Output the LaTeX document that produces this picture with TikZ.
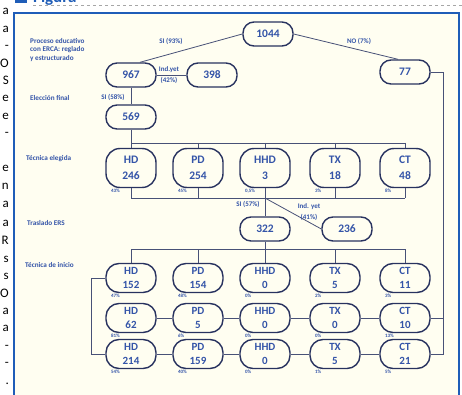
\documentclass[tikz,border=0pt]{standalone}
\usepackage{fontspec}
\setmainfont{Carlito}

\definecolor{ink}{HTML}{28325F}
\definecolor{txtblue}{HTML}{3454A8}
\definecolor{frameblue}{HTML}{1F5DB8}
\definecolor{paper}{HTML}{FFFEF1}

\tikzset{
  num/.style={rectangle, rounded corners=11pt, draw=ink, line width=1.4pt, fill=paper,
    minimum width=50pt, minimum height=24pt, inner sep=0pt,
    text=txtblue, font=\bfseries\fontsize{11.5}{12}\selectfont},
  tecA/.style={num, rounded corners=14pt, minimum height=39pt, align=center,
    font=\bfseries\fontsize{11.5}{16}\selectfont},
  tecB/.style={num, rounded corners=13pt, minimum height=29pt, align=center,
    font=\bfseries\fontsize{11}{14.5}\selectfont},
  lbl/.style={text=txtblue, font=\bfseries\fontsize{7}{10.5}\selectfont, inner sep=0.5pt, align=center},
  side/.style={text=txtblue, font=\bfseries\fontsize{7.2}{8.8}\selectfont, align=left, anchor=west, inner sep=0pt},
  pct/.style={text=txtblue, font=\bfseries\fontsize{5}{5}\selectfont, anchor=north west, inner sep=0.5pt},
  wire/.style={draw=ink!85, line width=0.8pt}
}

\begin{document}
\begin{tikzpicture}[x=1pt,y=-1pt]
\useasboundingbox (0,0) rectangle (462,395);
\fill[white] (0,0) rectangle (462,395);
\fill[paper] (14,13) rectangle (459,395);
\draw[frameblue, line width=1.4pt] (14,400) -- (14,13) -- (459,13) -- (459,400);
\draw[gray!70, dashed, line width=0.6pt] (33,5.5) -- (462,5.5);
% header cut off at the top of the page
\fill[frameblue] (15,-6) rectangle (27,3);
\node[anchor=base west, text=frameblue, inner sep=0pt,
  font=\bfseries\fontsize{17}{17}\selectfont] (title) at (33,2.5) {Figura};

% ends of the text column on the left
\foreach \c/\y [count=\k] in {a/10,a/28,-/45,O/63,S/80,e/97,e/115,-/132,e/167,n/185,a/203,
    a/222,R/240,s/258,s/275,O/293,a/310,a/327,-/345,-/362,./380}
  \node[anchor=base east, inner sep=0pt, font=\fontsize{13}{13}\selectfont] (col\k) at (9,{\y+4.5}) {\c};

\node[side] (sProc) at (30,50) {Proceso educativo\\con ERCA: reglado\\y estructurado};
\node[side] (sElec) at (30,98) {Elección final};
\node[side] (sTec) at (26,159) {Técnica elegida};
\node[side] (sTras) at (27,223) {Traslado ERS};
\node[side] (sIni) at (25,265) {Técnica de inicio};

\node[num] (n1044) at (268,34) {1044};
\node[num] (n967) at (131,75) {967};
\node[num] (n398) at (212,75) {398};
\node[num] (n77) at (405,72) {77};
\node[num] (n569) at (131,117) {569};
\node[num] (n322) at (265,229) {322};
\node[num] (n236) at (347,229) {236};

\foreach \t/\v/\p/\x [count=\i] in {HD/246/43\%/131, PD/254/45\%/198, HHD/3/{0,5\%}/265, TX/18/3\%/335, CT/48/8\%/405}{
  \node[tecA] (e\i) at (\x,168) {\t\\\v};
  \node[pct] (pe\i) at ([xshift=5pt]e\i.south west) {\p};
}
\foreach \t/\v/\p/\x [count=\i] in {HD/152/47\%/131, PD/154/48\%/198, HHD/0/0\%/265, TX/5/2\%/335, CT/11/3\%/405}{
  \node[tecB] (a\i) at (\x,278) {\t\\\v};
  \node[pct] (pa\i) at ([xshift=5pt]a\i.south west) {\p};
}
\foreach \t/\v/\p/\x [count=\i] in {HD/62/81\%/131, PD/5/6\%/198, HHD/0/0\%/265, TX/0/0\%/335, CT/10/13\%/405}{
  \node[tecB] (b\i) at (\x,318) {\t\\\v};
  \node[pct] (pb\i) at ([xshift=5pt]b\i.south west) {\p};
}
\foreach \t/\v/\p/\x [count=\i] in {HD/214/54\%/131, PD/159/40\%/198, HHD/0/0\%/265, TX/5/1\%/335, CT/21/5\%/405}{
  \node[tecB] (c\i) at (\x,354) {\t\\\v};
  \node[pct] (pc\i) at ([xshift=5pt]c\i.south west) {\p};
}

\coordinate (busA) at (0,143);
\coordinate (busB) at (0,198);
\coordinate (busC) at (0,249);
\coordinate (rgt) at (443,0);

\draw[wire] (n1044.west) -- ([xshift=9pt]n967.north);
\draw[wire] (n1044.east) -- ([xshift=-7pt]n77.north);
\draw[wire] (n967) -- (n398);
\draw[wire] (n967) -- (n569);
\node[lbl] (l93) at (171,41) {SI (93\%)};
\node[lbl] (l7) at (359,41) {NO (7\%)};
\node[lbl] (l42) at (169,75) {Ind.yet\\(42\%)};
\node[lbl] (l58) at (113,97) {SI (58\%)};

\draw[wire] (n569) -- (e1);
\draw[wire] (e1 |- busA) -- (e5 |- busA);
\draw[wire] (e1.south) -- (e1 |- busB) -- (e5 |- busB);
\foreach \i in {2,...,5}{
  \draw[wire] (e\i |- busA) -- (e\i.north);
  \draw[wire] (e\i.south) -- (e\i |- busB);
}
\draw[wire] (e3 |- busB) -- (n322);
\draw[wire] (e3 |- busB) -- (n236.west);
\node[lbl] (l57) at (248,204) {SI (57\%)};
\node[lbl] (l41) at (309,212) {Ind. yet\\(41\%)};

\draw[wire] (n322) -- (a3);
\draw[wire] (a1 |- busC) -- (a5 |- busC);
\foreach \i in {1,2,4,5}
  \draw[wire] (a\i |- busC) -- (a\i.north);

\foreach \i/\j in {1/2,2/3,3/4,4/5}{
  \draw[wire] (b\i) -- (b\j);
  \draw[wire] (c\i) -- (c\j);
}
\draw[wire] (a1.west) -- ++(-14,0) |- (c1.west);
\draw[wire] (n77.east) -| (rgt |- c5) -- (c5.east);
\draw[wire] (b5.east) -- (rgt |- b5);
\end{tikzpicture}
\end{document}
